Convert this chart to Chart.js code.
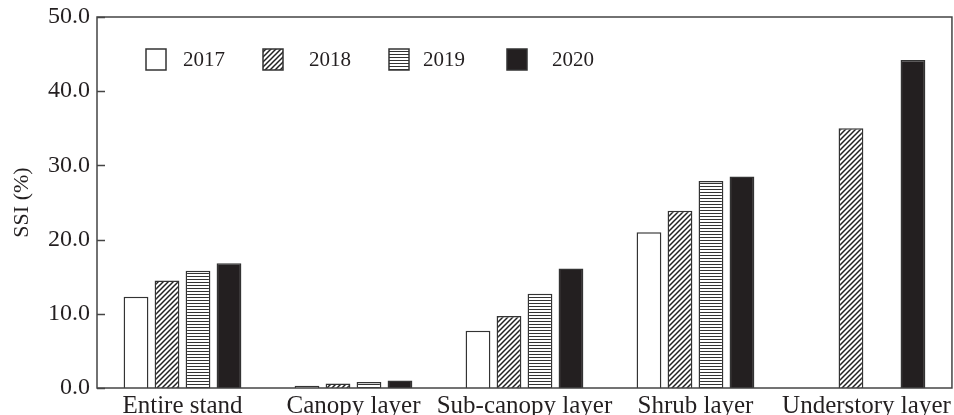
<!DOCTYPE html>
<html>
<head>
<meta charset="utf-8">
<script src="https://cdn.jsdelivr.net/npm/chart.js@4/dist/chart.umd.min.js"></script>
<style>
  html, body { margin: 0; padding: 0; background: #fff; }
  #wrap { width: 954px; height: 415px; }
</style>
</head>
<body>
<div id="wrap"><canvas id="ssiChart" width="954" height="415"></canvas></div>
<script>
const categories = ["Entire stand", "Canopy layer", "Sub-canopy layer", "Shrub layer", "Understory layer"];
const years = ["2017", "2018", "2019", "2020"];
const ssi2017 = [12.3, 0.3, 7.7, 21.0, null];
const ssi2018 = [14.5, 0.6, 9.7, 23.9, 35.0];
const ssi2019 = [15.8, 0.8, 12.7, 27.9, null];
const ssi2020 = [16.8, 1.0, 16.1, 28.5, 44.2];
const yTicks = [0, 10, 20, 30, 40, 50];

const ink = "#231f20";
const serif = "'Liberation Serif', 'Times New Roman', serif";

const canvas = document.getElementById("ssiChart");
const ctx = canvas.getContext("2d");

// small tiles for the hatched fills
function makePattern(size, draw) {
  const tile = document.createElement("canvas");
  tile.width = size.w;
  tile.height = size.h;
  const t = tile.getContext("2d");
  t.fillStyle = "#fff";
  t.fillRect(0, 0, size.w, size.h);
  draw(t);
  return ctx.createPattern(tile, "repeat");
}

const diagonal = makePattern({ w: 5, h: 5 }, t => {
  t.strokeStyle = "#222";
  t.lineWidth = 1.5;
  t.beginPath();
  t.moveTo(-1, 6); t.lineTo(6, -1);
  t.moveTo(-1, 1); t.lineTo(1, -1);
  t.moveTo(4, 6); t.lineTo(6, 4);
  t.stroke();
});

const horizontal = makePattern({ w: 4, h: 3 }, t => {
  t.fillStyle = "#333";
  t.fillRect(0, 0, 4, 1);
});

const fills = ["#fff", diagonal, horizontal, ink];
const series = [ssi2017, ssi2018, ssi2019, ssi2020];

// legend boxes sit inside the plot, near the top-left
const legendBoxX = [146, 263, 389, 507];
const legendTextX = [183, 309, 423, 552];

const framePlugin = {
  id: "frame",
  afterDatasetsDraw(chart) {
    const { ctx, chartArea: a, scales: { y } } = chart;
    ctx.save();
    ctx.strokeStyle = "#444";
    ctx.lineWidth = 1.5;
    ctx.strokeRect(a.left, a.top, a.right - a.left, a.bottom - a.top);
    ctx.beginPath();
    y.ticks.forEach(t => {
      const py = Math.round(y.getPixelForValue(t.value)) + 0.5;
      ctx.moveTo(a.left, py);
      ctx.lineTo(a.left + 8, py);
    });
    ctx.stroke();

    // legend
    ctx.font = "21px " + serif;
    ctx.textBaseline = "middle";
    chart.data.datasets.forEach((ds, i) => {
      const bx = legendBoxX[i];
      ctx.fillStyle = ds.backgroundColor;
      ctx.fillRect(bx, 49, 20, 21);
      ctx.strokeStyle = "#333";
      ctx.lineWidth = 1.5;
      ctx.strokeRect(bx, 49, 20, 21);
      ctx.fillStyle = ink;
      ctx.fillText(ds.label, legendTextX[i], 60);
    });
    ctx.restore();
  }
};

new Chart(ctx, {
  type: "bar",
  data: {
    labels: categories,
    datasets: years.map((yr, i) => ({
      label: yr,
      data: series[i],
      backgroundColor: fills[i],
      borderColor: "#333",
      borderWidth: 1.5,
      categoryPercentage: 0.725,
      barPercentage: 0.8
    }))
  },
  options: {
    responsive: false,
    animation: false,
    layout: { padding: { top: 17, right: 2, left: 0, bottom: 0 } },
    plugins: {
      legend: { display: false },
      tooltip: { enabled: false }
    },
    scales: {
      x: {
        grid: { display: false, drawTicks: false },
        border: { display: false },
        ticks: {
          color: ink,
          font: { family: serif, size: 25 },
          padding: 3,
          maxRotation: 0,
          autoSkip: false
        },
        afterFit(scale) { scale.height = 27; }
      },
      y: {
        min: 0,
        max: 50,
        grid: { display: false, drawTicks: false },
        border: { display: false },
        afterBuildTicks(scale) { scale.ticks = yTicks.map(v => ({ value: v })); },
        ticks: {
          color: ink,
          font: { family: serif, size: 24 },
          padding: 7,
          callback: v => v.toFixed(1)
        },
        title: {
          display: true,
          text: "SSI (%)",
          color: ink,
          font: { family: serif, size: 22 },
          padding: { top: 9, bottom: 0 }
        },
        afterFit(scale) {
          scale.width = 97;
          scale.paddingTop = 0;
          scale.paddingBottom = 0;
        }
      }
    }
  },
  plugins: [framePlugin]
});
</script>
</body>
</html>
